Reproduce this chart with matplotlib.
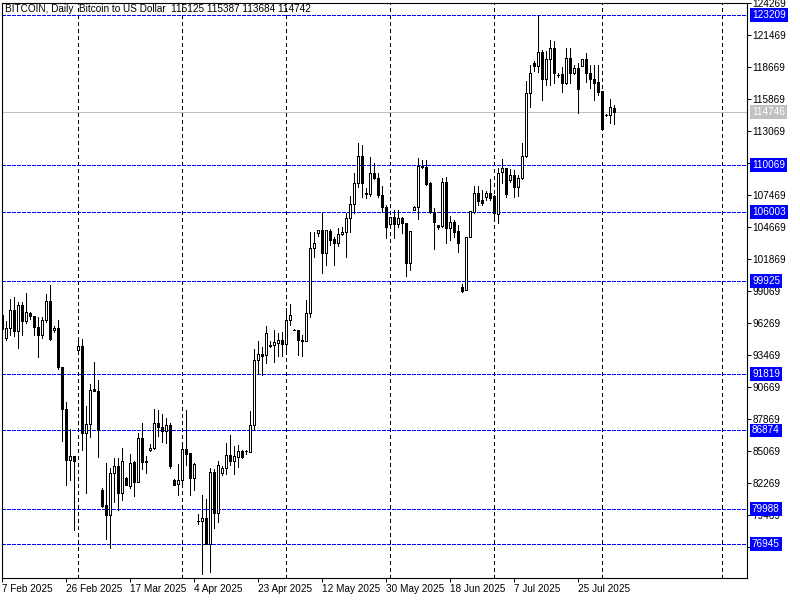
import pandas as pd
import matplotlib.pyplot as plt

# daily OHLC, BTCUSD, 7 Feb 2025 .. 5 Aug 2025 (no Saturday bars)
opens = [97002, 94960, 95835, 97440, 95544, 97877, 96419, 97148, 96915, 95923,
         95193, 96506, 98227, 95631, 95835, 92422, 88747, 84255, 84663, 93939,
         94289, 86647, 87464, 90526, 90351, 81688, 80375, 79442, 83146, 83730,
         81396, 82709, 82038, 84080, 82358, 86209, 84226, 85188, 85334, 87522,
         87200, 86792, 87376, 82563, 82212, 82504, 85276, 84897, 82709, 78917,
         78980, 79214, 76968, 83239, 79651, 83152, 83589, 84756, 84173, 84552,
         85106, 85048, 84989, 87381, 93070, 93565, 93507, 94382, 94382, 94528,
         94820, 94440, 96570, 95695, 95695, 94820, 94674, 97117, 102805, 104176,
         104409, 102425, 104351, 103621, 103301, 104030, 104205, 105430, 106684, 108493,
         110885, 107676, 107530, 109368, 108930, 107472, 106451, 104934, 105517, 104934,
         105430, 104992, 101550, 106159, 106392, 110010, 109951, 108493, 106013, 104847,
         104759, 108639, 104555, 105138, 104351, 99392, 99158, 103767, 106013, 107617,
         107034, 107268, 107676, 107400, 105830, 109518, 109809, 108788, 109226, 108205,
         108934, 110889, 116431, 118998, 118764, 120019, 117598, 119348, 120311, 117977,
         118064, 117248, 119435, 118181, 118560, 118793, 119348, 118181, 117598, 117393,
         116577, 114476, 114476, 115125]
highs = [97200, 96419, 98373, 98548, 98110, 98110, 98898, 97235, 96915, 96798,
         96798, 98840, 99627, 95982, 96565, 92422, 89389, 86997, 84663, 94960,
         94902, 88980, 90964, 92889, 91314, 81834, 84021, 83584, 84459, 84459,
         85334, 82760, 84838, 84226, 86647, 87522, 84605, 85713, 88747, 88630,
         88339, 87960, 87522, 82620, 83963, 85480, 88630, 84897, 84021, 79550,
         81256, 80876, 83589, 83531, 84231, 83735, 85777, 86506, 85485, 85573,
         85194, 85194, 88606, 94003, 94732, 94149, 95986, 94674, 95695, 95403,
         95461, 97591, 97970, 95753, 95695, 95257, 98320, 104263, 104263, 104409,
         105925, 104409, 104467, 103767, 104555, 104642, 105868, 107384, 109368, 111993,
         111847, 108055, 110768, 110243, 109426, 108259, 106597, 105576, 106159, 106159,
         105517, 104992, 104322, 106509, 110681, 110535, 110535, 108639, 106305, 104847,
         108930, 109076, 105634, 105284, 104847, 99683, 103826, 106072, 108259, 108259,
         107909, 107822, 108843, 107500, 109805, 110597, 109809, 109722, 109663, 109226,
         112055, 117452, 118852, 119231, 123209, 120165, 120106, 121040, 120981, 118181,
         118706, 120311, 120311, 118852, 118998, 119348, 119873, 118852, 118852, 118852,
         116577, 114600, 115848, 115387]
lows = [95600, 94814, 95252, 95164, 94085, 95193, 96273, 96623, 95193, 93268,
        94960, 96361, 94756, 95485, 92277, 85918, 82067, 82504, 78130, 93706,
        85188, 81396, 86297, 90293, 84546, 80171, 77371, 76584, 80608, 79938,
        80754, 82080, 81834, 81104, 82358, 83525, 83146, 85101, 85276, 86355,
        85830, 85772, 83584, 82080, 81192, 82270, 83876, 81192, 81629, 78713,
        74343, 76900, 74459, 78339, 78835, 82947, 83093, 83881, 83064, 83647,
        84464, 84843, 84989, 86944, 91844, 91698, 92778, 94149, 92865, 93361,
        93361, 93653, 96132, 95636, 93449, 93361, 94674, 96825, 102075, 103884,
        100675, 101346, 103096, 101346, 103009, 103942, 102075, 104263, 105868, 108201,
        107268, 107180, 107414, 108843, 107326, 106013, 103680, 104642, 103680, 104701,
        104117, 100383, 100909, 106159, 105342, 109805, 108347, 105868, 102717, 104467,
        104701, 103301, 103534, 103826, 102513, 99012, 99158, 103767, 105868, 106597,
        106597, 107034, 107034, 105250, 105051, 108555, 107330, 108643, 107330, 107417,
        108847, 110830, 115206, 118356, 118269, 115789, 117102, 117102, 117306, 117831,
        116518, 117189, 117248, 118064, 114681, 118793, 117393, 116810, 115789, 116227,
        113164, 114400, 113747, 113684]
closes = [95748, 95835, 97440, 95544, 97877, 96419, 97235, 96856, 95923, 95193,
          96565, 98227, 94902, 95835, 92393, 88747, 84255, 84663, 84167, 94289,
          86647, 87464, 90439, 90293, 86938, 80288, 79442, 83146, 83730, 81396,
          84226, 82125, 84021, 82358, 86209, 84109, 84080, 85334, 87522, 87200,
          86792, 87376, 83730, 82125, 82563, 85276, 84838, 82709, 83963, 78917,
          79214, 76968, 83239, 79651, 83881, 83589, 84756, 84173, 84610, 85106,
          84552, 85048, 87381, 93070, 93565, 93361, 95403, 94236, 94586, 94820,
          94440, 96570, 97007, 95695, 94761, 94674, 97153, 102805, 103301, 104409,
          102425, 104409, 103534, 103301, 104030, 104205, 105430, 106684, 108493, 110885,
          108493, 107530, 109368, 108930, 107472, 106451, 104642, 105517, 104934, 105430,
          104992, 101550, 104322, 106392, 110010, 109893, 108434, 106013, 105138, 104701,
          108639, 104555, 105138, 104263, 103301, 99100, 103826, 106072, 107617, 106976,
          106801, 107676, 107180, 105870, 109426, 109809, 107534, 109226, 108205, 108934,
          110889, 116431, 118123, 118764, 120019, 117598, 119348, 120311, 118181, 117977,
          117248, 119435, 118181, 118560, 116723, 119348, 118123, 117598, 117306, 116518,
          113222, 114476, 115147, 114742]

levels = [123209, 110069, 106003, 99925, 91819, 86874, 79988, 76945]
bid = 114746
price_ticks = [124269, 121469, 118669, 115869, 113069, 110269, 107469, 104669, 101869,
               99069, 96269, 93469, 90669, 87869, 85069, 82269, 79469, 76669]
date_labels = ['2025-02-07', '2025-02-26', '2025-03-17', '2025-04-04', '2025-04-23',
               '2025-05-12', '2025-05-30', '2025-06-18', '2025-07-07', '2025-07-25']
title = 'BITCOIN, Daily  Bitcoin to US Dollar  115125 115387 113684 114742'

# bar dates: broker has no Saturday session; future area runs on calendar days
days = pd.date_range('2025-02-07', '2025-08-05')
bars = days[days.dayofweek != 5]
future = pd.date_range(bars[-1] + pd.Timedelta(days=1), periods=40)
all_dates = bars.append(future)
idx = list(range(len(bars)))

fs = 7.2
plt.rcParams['font.family'] = ['Liberation Sans', 'DejaVu Sans']
fig = plt.figure(figsize=(8, 6), dpi=100)
ax = fig.add_axes([2 / 800, 22 / 600, 745 / 800, 575 / 600])
ax.set_xlim(0, 745 / 4)
ax.set_ylim(73956, 124269)

# month separators
month_start = [i for i in range(1, len(all_dates)) if all_dates[i].month != all_dates[i - 1].month]
for i in month_start:
    ax.axvline(i, color='black', lw=0.72, ls=(0, (4, 3)), zorder=1, antialiased=False)

for lv in levels:
    ax.axhline(lv, color='#0000FF', lw=0.72, ls=(0, (4, 2)), zorder=1, antialiased=False)
ax.axhline(bid, color='#C0C0C0', lw=0.72, zorder=1, antialiased=False)

# candles
ax.vlines(idx, lows, highs, color='black', lw=0.72, zorder=2, antialiased=False)
bottoms = [min(o, c) for o, c in zip(opens, closes)]
heights = [abs(c - o) for o, c in zip(opens, closes)]
colors = ['white' if c >= o else 'black' for o, c in zip(opens, closes)]
ax.bar(idx, heights, bottom=bottoms, width=0.5, color=colors, edgecolor='black',
       lw=0.72, zorder=3, antialiased=False)

# axes styling
for s in ax.spines.values():
    s.set_linewidth(0.8)
ax.yaxis.tick_right()
ax.set_yticks(price_ticks)
ax.set_yticklabels([str(p) for p in price_ticks])
ax.tick_params(axis='y', length=3, width=0.7, pad=1, labelsize=fs)

tick_pos = [bars.get_loc(pd.Timestamp(d)) for d in date_labels]
ax.set_xticks(tick_pos)
ax.set_xticklabels([f"{pd.Timestamp(d).day} {pd.Timestamp(d):%b %Y}" for d in date_labels],
                   ha='left')
ax.tick_params(axis='x', length=3, width=0.7, pad=1.5, labelsize=fs)

tr = ax.get_yaxis_transform()
for lv in levels:
    ax.text(1 + 5 / 745, lv, str(lv), transform=tr, color='white', fontsize=fs,
            va='center', ha='left', zorder=5, clip_on=False,
            bbox=dict(boxstyle='square,pad=0.18', fc='#0000FF', ec='none'))
ax.text(1 + 5 / 745, bid, str(bid), transform=tr, color='white', fontsize=fs,
        va='center', ha='left', zorder=5, clip_on=False,
        bbox=dict(boxstyle='square,pad=0.18', fc='#C0C0C0', ec='none'))

fig.text(5 / 800, 1 - 9 / 600, title, fontsize=fs, va='center', ha='left')

fig.savefig('out.png', dpi=100)
